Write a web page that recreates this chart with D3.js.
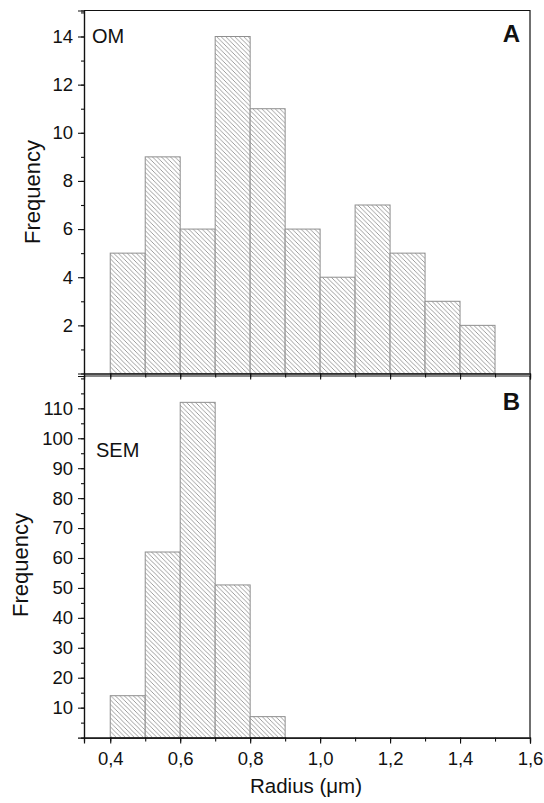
<!DOCTYPE html>
<html>
<head>
<meta charset="utf-8">
<script src="https://cdn.jsdelivr.net/npm/d3@7"></script>
<style>
	body { margin: 0; background: #fff; }
	svg { display: block; font-family: "Liberation Sans", Arial, sans-serif; }
	.hist { fill: url(#hatch); stroke: #8f8f8f; stroke-width: 1; }
</style>
</head>
<body>
<svg width="544" height="803"></svg>
<script>
// bin start edges (radius, um), bin width 0.1
var binsA = [0.4, 0.5, 0.6, 0.7, 0.8, 0.9, 1.0, 1.1, 1.2, 1.3, 1.4];
var countsA = [5, 9, 6, 14, 11, 6, 4, 7, 5, 3, 2];
var binsB = [0.4, 0.5, 0.6, 0.7, 0.8];
var countsB = [14, 62, 112, 51, 7];
var xTicks = [0.4, 0.6, 0.8, 1.0, 1.2, 1.4, 1.6];
var yTicksA = [2, 4, 6, 8, 10, 12, 14];
var yTicksB = [10, 20, 30, 40, 50, 60, 70, 80, 90, 100, 110];

var svg = d3.select("svg");
var left = 84, right = 530;
var binWidth = 0.1;

var fmt = function(d) { return d3.format(".1f")(d).replace(".", ","); };

// hatch pattern
svg.append("defs").append("pattern")
	.attr("id", "hatch")
	.attr("patternUnits", "userSpaceOnUse")
	.attr("width", 4.5).attr("height", 4.5)
	.call(function(p) {
		p.append("rect").attr("width", 4.5).attr("height", 4.5).attr("fill", "#fff");
		p.append("path").attr("d", "M-1,-1L5.5,5.5M-1,3.5L1,5.5M3.5,-1L5.5,1")
			.attr("stroke", "#858585").attr("stroke-width", 0.8);
	});

var x = d3.scaleLinear().domain([0.325, 1.6]).range([left, right]);

function drawPanel(opt) {
	var y = d3.scaleLinear().domain(opt.domain).range([opt.bottom, opt.top]);
	var g = svg.append("g");

	g.selectAll("rect.hist")
		.data(opt.counts)
		.enter().append("rect")
		.attr("class", "hist")
		.attr("x", function(d, i) { return x(opt.bins[i]); })
		.attr("y", function(d) { return y(d); })
		.attr("width", function(d, i) { return x(opt.bins[i] + binWidth) - x(opt.bins[i]); })
		.attr("height", function(d) { return opt.bottom - y(d); });

	// frame: top and right
	g.append("path")
		.attr("d", "M" + left + "," + opt.top + "H" + right + "V" + opt.bottom)
		.attr("fill", "none").attr("stroke", "#111").attr("stroke-width", 1.2);

	// y axis
	var minorY = d3.range(opt.minorStep, opt.domain[1], opt.minorStep);
	var yMinor = d3.axisLeft(y).tickValues(minorY).tickSize(3).tickFormat("");
	g.append("g").attr("transform", "translate(" + left + ",0)").call(yMinor);
	var yAxis = d3.axisLeft(y).tickValues(opt.yTicks).tickSize(6).tickPadding(5);
	g.append("g").attr("class", "yaxis").attr("transform", "translate(" + left + ",0)").call(yAxis);

	// x axis
	var minorX = d3.range(4, 16).map(function(d) { return d / 10; });
	var xMinor = d3.axisBottom(x).tickValues(minorX).tickSize(4).tickFormat("");
	g.append("g").attr("transform", "translate(0," + opt.bottom + ")").call(xMinor);
	var xAxis = d3.axisBottom(x).tickValues(xTicks).tickSize(6).tickPadding(8)
		.tickFormat(opt.showX ? fmt : "");
	g.append("g").attr("class", "xaxis").attr("transform", "translate(0," + opt.bottom + ")").call(xAxis);

	g.selectAll(".domain").attr("stroke", "#111").attr("stroke-width", 1.2);
	g.selectAll(".tick line").attr("stroke", "#111").attr("stroke-width", 1.1);
	g.selectAll(".tick text")
		.style("font-size", "18.5px")
		.style("font-family", "'Liberation Sans', Arial, sans-serif")
		.attr("fill", "#111");

	// y title
	g.append("text")
		.attr("transform", "translate(" + opt.titleX + "," + opt.titleY + ") rotate(-90)")
		.attr("text-anchor", "middle")
		.style("font-size", "22px")
		.attr("fill", "#111")
		.text("Frequency");

	g.append("text").attr("x", opt.nameX).attr("y", opt.nameY)
		.style("font-size", "20px").attr("fill", "#111").text(opt.name);

	g.append("text").attr("x", 520).attr("y", opt.letterY)
		.attr("text-anchor", "end").style("font-size", "24px").attr("font-weight", "bold")
		.attr("fill", "#111")
		.text(opt.letter);
}

drawPanel({
	bins: binsA, counts: countsA, domain: [0, 15.08], top: 10.5, bottom: 373.5,
	yTicks: yTicksA, minorStep: 1, showX: false, titleX: 40, titleY: 192,
	name: "OM", nameX: 92, nameY: 43, letter: "A", letterY: 42
});

drawPanel({
	bins: binsB, counts: countsB, domain: [0, 120.8], top: 376, bottom: 737.6,
	yTicks: yTicksB, minorStep: 5, showX: true, titleX: 28, titleY: 565,
	name: "SEM", nameX: 96, nameY: 457, letter: "B", letterY: 410
});

svg.append("text")
	.attr("x", 306)
	.attr("y", 793)
	.attr("text-anchor", "middle")
	.style("font-size", "20.5px")
	.attr("fill", "#111")
	.text("Radius (\u03bcm)");
</script>
</body>
</html>
